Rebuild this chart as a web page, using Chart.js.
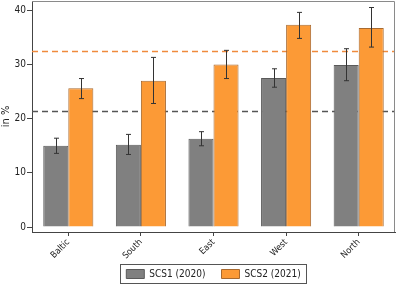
<!DOCTYPE html>
<html>
<head>
<meta charset="utf-8">
<script src="https://cdn.jsdelivr.net/npm/chart.js@4/dist/chart.umd.min.js"></script>
<style>
	html, body { margin: 0; padding: 0; background: #fff; }
	#wrap { width: 400px; height: 284px; }
</style>
</head>
<body>
<div id="wrap"><canvas id="chart-scs"></canvas></div>
<script>
// Data
const regions = ['Baltic', 'South', 'East', 'West', 'North'];
const scs1 = [15.0, 15.2, 16.3, 27.5, 29.9];
const scs1Low = [13.6, 13.4, 15.0, 25.8, 27.0];
const scs1High = [16.4, 17.1, 17.6, 29.2, 32.9];
const scs2 = [25.6, 27.0, 30.0, 37.3, 36.7];
const scs2Low = [23.7, 22.8, 27.4, 34.8, 33.2];
const scs2High = [27.4, 31.3, 32.6, 39.6, 40.5];
const meanScs1 = 21.3;
const meanScs2 = 32.4;
const yTicks = [0, 10, 20, 30, 40];

const font = "'DejaVu Sans Condensed', 'DejaVu Sans', sans-serif";

// error bars drawn from the y scale
const errorBars = {
	id: 'errorBars',
	afterDatasetsDraw(chart) {
		const { ctx, scales: { y } } = chart;
		ctx.save();
		ctx.strokeStyle = '#333';
		ctx.lineWidth = 1;
		chart.data.datasets.forEach((ds, i) => {
			chart.getDatasetMeta(i).data.forEach((bar, j) => {
				const x = Math.round(bar.x) + 0.5;
				const lo = y.getPixelForValue(ds.errLow[j]);
				const hi = y.getPixelForValue(ds.errHigh[j]);
				ctx.beginPath();
				ctx.moveTo(x, lo);
				ctx.lineTo(x, hi);
				ctx.moveTo(x - 2.5, hi);
				ctx.lineTo(x + 2.5, hi);
				ctx.moveTo(x - 2.5, lo);
				ctx.lineTo(x + 2.5, lo);
				ctx.stroke();
			});
		});
		ctx.restore();
	},
};

// dashed mean lines behind bars + frame + legend box
const meanLines = {
	id: 'meanLines',
	afterLayout(chart) {
		// legend sits a little higher than its layout slot
		const lg = chart.legend;
		if (!lg) return;
		lg.top = chart.chartArea.bottom + 21;
		lg.bottom = chart.height;
		lg.height = lg.bottom - lg.top;
	},
	beforeDatasetsDraw(chart) {
		const { ctx, chartArea: a, scales: { y } } = chart;
		ctx.save();
		ctx.lineWidth = 1.5;
		ctx.setLineDash([6, 4]);
		[[meanScs1, '#555555'], [meanScs2, '#f08a3c']].forEach(([v, c]) => {
			const py = y.getPixelForValue(v);
			ctx.strokeStyle = c;
			ctx.beginPath();
			ctx.moveTo(a.left, py);
			ctx.lineTo(a.right, py);
			ctx.stroke();
		});
		ctx.setLineDash([]);
		ctx.strokeStyle = '#8a8a8a';
		ctx.lineWidth = 1;
		ctx.beginPath();
		ctx.moveTo(a.left, a.top + 0.5);
		ctx.lineTo(a.right - 0.5, a.top + 0.5);
		ctx.lineTo(a.right - 0.5, a.bottom);
		ctx.stroke();
		ctx.restore();
	},
	afterDraw(chart) {
		const lg = chart.legend;
		if (!lg || !lg.legendHitBoxes.length) return;
		const boxes = lg.legendHitBoxes;
		const first = boxes[0];
		const last = boxes[boxes.length - 1];
		const { ctx } = chart;
		ctx.save();
		ctx.strokeStyle = '#555';
		ctx.lineWidth = 1;
		ctx.strokeRect(Math.round(first.left - 6) + 0.5, Math.round(first.top - 5) + 0.5,
			Math.round(last.left + last.width - first.left + 12), Math.round(first.height + 9));
		ctx.restore();
	},
};

!(function () {
	const ctx = document.getElementById('chart-scs');

	new Chart(ctx, {
		type: 'bar',
		data: {
			labels: regions,
			datasets: [
				{
					label: 'SCS1 (2020)',
					data: scs1,
					errLow: scs1Low,
					errHigh: scs1High,
					backgroundColor: '#808080',
					borderColor: '#5a5a5a',
					borderWidth: 1,
				},
				{
					label: 'SCS2 (2021)',
					data: scs2,
					errLow: scs2Low,
					errHigh: scs2High,
					backgroundColor: '#fc9a36',
					borderColor: '#a86a30',
					borderWidth: 1,
				},
			],
		},
		options: {
			responsive: true,
			maintainAspectRatio: false,
			animation: false,
			layout: { padding: { top: 1, right: 5, left: 0, bottom: 0 } },
			datasets: {
				bar: { categoryPercentage: 0.69, barPercentage: 1 },
			},
			scales: {
				x: {
					grid: { offset: false, drawOnChartArea: false, color: '#444', tickLength: 4 },
					border: { color: '#444', width: 1 },
					ticks: {
						color: '#222',
						font: { family: font, size: 9 },
						minRotation: 45,
						maxRotation: 45,
						padding: 1,
					},
					afterFit(scale) { scale.height = 33; },
				},
				y: {
					min: -0.9,
					max: 41.7,
					afterBuildTicks(scale) { scale.ticks = yTicks.map(v => ({ value: v })); },
					grid: { drawOnChartArea: false, color: '#444', tickLength: 5 },
					border: { color: '#444', width: 1 },
					ticks: {
						color: '#222',
						font: { family: font, size: 10 },
						padding: 1,
					},
					title: {
						display: true,
						text: 'in %',
						color: '#222',
						font: { family: font, size: 11 },
						padding: 0,
					},
					afterFit(scale) {
						scale.width = 32;
						scale.paddingTop = 0;
						scale.paddingBottom = 0;
					},
				},
			},
			plugins: {
				legend: {
					position: 'bottom',
					fullSize: false,
					maxHeight: 19,
					labels: {
						color: '#222',
						font: { family: font, size: 10 },
						boxWidth: 18,
						boxHeight: 9,
						padding: 16,
					},
				},
				tooltip: { enabled: false },
			},
		},
		plugins: [meanLines, errorBars],
	});
})();
</script>
</body>
</html>
